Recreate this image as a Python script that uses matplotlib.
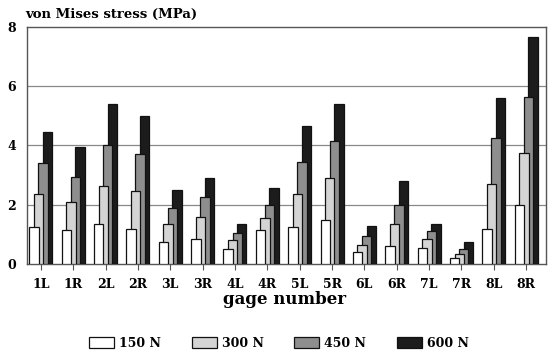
#!/usr/bin/env python3
"""Grouped, overlapping bar chart of von Mises stress per gage."""

import matplotlib
matplotlib.use("Agg")
import matplotlib.pyplot as plt
import numpy as np
from matplotlib.patches import Patch

gages = ["1L", "1R", "2L", "2R", "3L", "3R", "4L", "4R",
         "5L", "5R", "6L", "6R", "7L", "7R", "8L", "8R"]
loads = ["150 N", "300 N", "450 N", "600 N"]

s150 = [1.25, 1.15, 1.35, 1.20, 0.75, 0.85, 0.50, 1.15,
        1.25, 1.50, 0.40, 0.60, 0.55, 0.20, 1.20, 2.00]
s300 = [2.35, 2.10, 2.65, 2.45, 1.35, 1.60, 0.80, 1.55,
        2.35, 2.90, 0.65, 1.35, 0.85, 0.35, 2.70, 3.75]
s450 = [3.40, 2.95, 4.00, 3.70, 1.90, 2.25, 1.05, 2.00,
        3.45, 4.15, 0.95, 2.00, 1.10, 0.50, 4.25, 5.65]
s600 = [4.45, 3.95, 5.40, 5.00, 2.50, 2.90, 1.35, 2.55,
        4.65, 5.40, 1.30, 2.80, 1.35, 0.75, 5.60, 7.65]

series = [s150, s300, s450, s600]
colors = ["#ffffff", "#d4d4d4", "#8e8e8e", "#1c1c1c"]

SERIF = ["DejaVu Serif"]

fig = plt.figure(figsize=(5.49, 3.54), dpi=100)
ax = fig.add_axes([0.049, 0.254, 0.946, 0.67])

x = np.arange(len(gages))
step, width = 0.14, 0.29
for i, (vals, col) in enumerate(zip(series, colors)):
    ax.bar(x + (i - 1.5) * step, vals, width=width, color=col,
           edgecolor="#111111", linewidth=0.9, zorder=10 - i)

ax.set_xlim(-0.43, 15.62)
ax.set_ylim(0, 8)
ax.set_yticks([0, 2, 4, 6, 8])
ax.set_xticks(x)
ax.set_xticklabels(gages)
for y in (2, 4, 6):
    ax.axhline(y, color="#888888", linewidth=0.9, zorder=1)

for sp in ax.spines.values():
    sp.set_color("#555555")
    sp.set_linewidth(1.0)

ax.tick_params(axis="y", length=0, pad=8)
ax.tick_params(axis="x", length=4, width=0.8, color="#555555", pad=6)
for lab in ax.get_xticklabels() + ax.get_yticklabels():
    lab.set_fontfamily(SERIF)
    lab.set_fontweight("bold")
    lab.set_fontsize(9)

fig.text(0.046, 0.958, "von Mises stress (MPa)", family=SERIF,
         fontweight="bold", fontsize=9.5, ha="left", va="center")
fig.text(0.518, 0.155, "gage number", family=SERIF, fontweight="bold",
         fontsize=12, ha="center", va="center")

handles = [Patch(facecolor=c, edgecolor="#111111", linewidth=0.9)
           for c in colors]
fig.legend(handles, loads, loc="center", bbox_to_anchor=(0.508, 0.031),
           ncol=4, frameon=False, handlelength=2.0, handleheight=1.0,
           columnspacing=2.45, handletextpad=0.4,
           prop={"family": SERIF, "weight": "bold", "size": 9})

fig.savefig("out.png", dpi=100)
